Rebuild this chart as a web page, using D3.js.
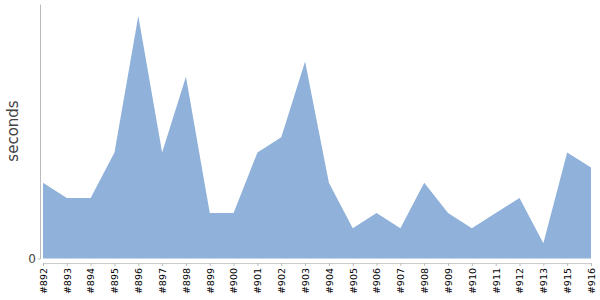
<!DOCTYPE html>
<html>
<head>
<meta charset="utf-8">
<script src="https://cdnjs.cloudflare.com/ajax/libs/d3/7.8.5/d3.min.js"></script>
<style>
body { margin: 0; background: #fff; }
text { font-family: "DejaVu Sans", sans-serif; }
</style>
</head>
<body>
<script>
let width = 600, height = 300;

// build ids (#914 missing) and durations in seconds
let builds = ["#892","#893","#894","#895","#896","#897","#898","#899","#900","#901","#902","#903",
  "#904","#905","#906","#907","#908","#909","#910","#911","#912","#913","#915","#916"];
let seconds = [5,4,4,7,16,7,12,3,3,7,8,13,5,2,3,2,5,3,2,3,4,1,7,6];

let data = builds.map((b, i) => ({build: b, value: seconds[i]}));

let svg = d3.select("body").append("svg")
  .attr("width", width)
  .attr("height", height);

let x = d3.scalePoint()
  .domain(builds)
  .range([43, 591]);

let y = d3.scaleLinear()
  .domain([0, 16.8])
  .range([258.5, 4]);

let area = d3.area()
  .x(d => x(d.build))
  .y0(y(0))
  .y1(d => y(d.value));

svg.append("path")
  .datum(data)
  .attr("fill", "#8fb1da")
  .attr("d", area);

// y axis
let yAxis = svg.append("g")
  .attr("transform", "translate(40,0)")
  .call(d3.axisLeft(y).tickValues([0]).tickSize(2).tickSizeOuter(0));
yAxis.select(".domain").attr("stroke", "#bbb");
yAxis.selectAll(".tick line").attr("stroke", "#bbb");
yAxis.selectAll(".tick text").attr("fill", "#444").attr("font-size", 12).attr("x", -4);

// x axis
let xAxis = svg.append("g")
  .attr("transform", "translate(0,263)")
  .call(d3.axisBottom(x).tickSize(3).tickSizeOuter(0));
xAxis.select(".domain").attr("stroke", "#ccc");
xAxis.selectAll(".tick line").attr("stroke", "#bbb");
xAxis.selectAll(".tick text")
  .attr("fill", "#000")
  .attr("font-size", 9.5)
  .attr("transform", "rotate(-90)")
  .attr("text-anchor", "end")
  .attr("x", -5)
  .attr("y", 0)
  .attr("dy", "0.35em");

svg.append("text")
  .attr("transform", "translate(18,131) rotate(-90)")
  .attr("text-anchor", "middle")
  .attr("fill", "#444")
  .attr("font-size", 15)
  .text("seconds");
</script>
</body>
</html>
